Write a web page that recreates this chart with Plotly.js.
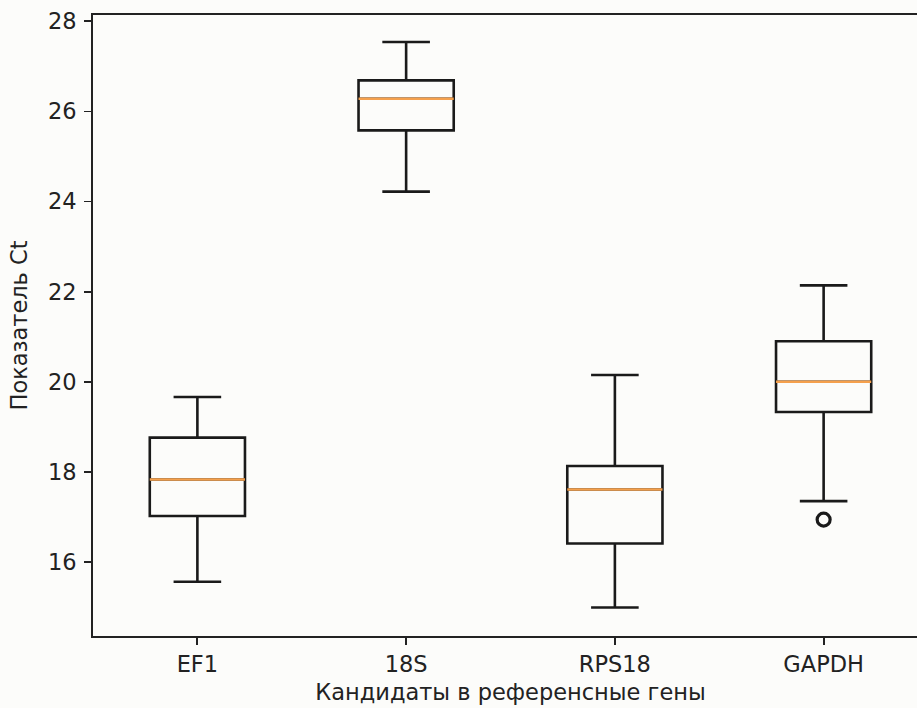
<!DOCTYPE html>
<html>
<head>
<meta charset="utf-8">
<script src="https://cdn.plot.ly/plotly-3.0.1.min.js"></script>
<style>
html, body { margin: 0; padding: 0; overflow: hidden; background: #fcfcfa; width: 917px; height: 708px; }
#chart { width: 940px; height: 708px; }
</style>
</head>
<body>
<div id="chart"></div>
<script>
// Data
const categories = ["EF1", "18S", "RPS18", "GAPDH"];
const lowerWhisker = [15.56, 24.22, 14.99, 17.35];
const q1 = [17.02, 25.58, 16.41, 19.33];
const medians = [17.83, 26.28, 17.61, 20.00];
const q3 = [18.76, 26.69, 18.13, 20.90];
const upperWhisker = [19.66, 27.54, 20.15, 22.14];
const outlierCategory = ["GAPDH"];
const outlierValues = [16.94];

const xTitle = "Кандидаты в референсные гены";
const yTitle = "Показатель Ct";

// Build traces
const positions = categories.map((c, i) => i + 1);
const boxWidth = 0.456;

const boxTrace = {
  type: "box",
  x: positions,
  q1: q1,
  median: medians,
  q3: q3,
  lowerfence: lowerWhisker,
  upperfence: upperWhisker,
  width: boxWidth,
  whiskerwidth: 0.5,
  fillcolor: "rgba(0,0,0,0)",
  line: { color: "#1a1a1a", width: 2.6 },
  boxpoints: false,
  hoverinfo: "skip",
  showlegend: false
};

const mx = [], my = [];
positions.forEach((p, i) => {
  mx.push(p - boxWidth / 2, p + boxWidth / 2, null);
  my.push(medians[i], medians[i], null);
});
const medianTrace = {
  type: "scatter",
  mode: "lines",
  x: mx,
  y: my,
  line: { color: "#f5a04c", width: 2.6 },
  hoverinfo: "skip",
  showlegend: false
};

const outlierTrace = {
  type: "scatter",
  mode: "markers",
  x: outlierCategory.map(c => categories.indexOf(c) + 1),
  y: outlierValues,
  marker: { symbol: "circle-open", size: 13, color: "#1a1a1a", line: { width: 3.2, color: "#1a1a1a" } },
  hoverinfo: "skip",
  showlegend: false
};

const font = { family: "DejaVu Sans, sans-serif", size: 22.5, color: "#222222" };

const layout = {
  width: 940,
  height: 708,
  margin: { l: 93, r: 12.4, t: 15, b: 72.3 },
  paper_bgcolor: "#fcfcfa",
  plot_bgcolor: "#fcfcfa",
  font: font,
  showlegend: false,
  xaxis: {
    range: [0.5, 4.5],
    tickvals: positions,
    ticktext: categories,
    ticks: "outside",
    ticklen: 7,
    tickwidth: 1.8,
    tickcolor: "#222222",
    showgrid: false,
    zeroline: false,
    showline: true,
    linecolor: "#222222",
    linewidth: 1.8,
    mirror: true,
    tickfont: font,
    title: { text: xTitle, font: font, standoff: 8 }
  },
  yaxis: {
    range: [14.357, 28.14],
    tickvals: [16, 18, 20, 22, 24, 26, 28],
    ticktext: ["16", "18", "20", "22", "24", "26", "28"],
    ticks: "outside",
    ticklen: 7,
    tickwidth: 1.8,
    tickcolor: "#222222",
    showgrid: false,
    zeroline: false,
    showline: true,
    linecolor: "#222222",
    linewidth: 1.8,
    mirror: true,
    ticklabelstandoff: 3,
    tickfont: font,
    title: { text: yTitle, font: font, standoff: 14 }
  }
};

Plotly.newPlot("chart", [boxTrace, medianTrace, outlierTrace], layout, { staticPlot: true, displayModeBar: false });
</script>
</body>
</html>
